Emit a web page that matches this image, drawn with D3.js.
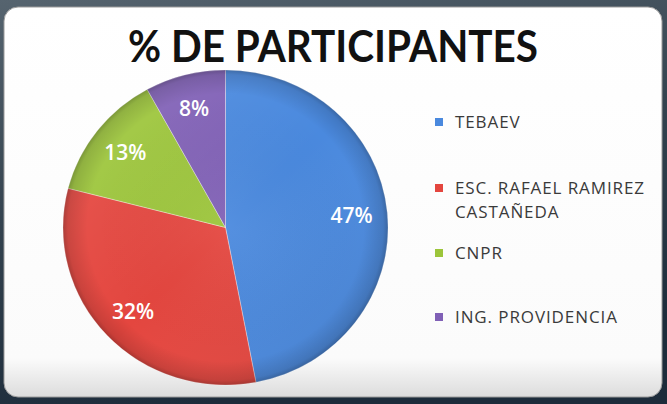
<!DOCTYPE html>
<html>
<head>
<meta charset="utf-8">
<script src="https://cdn.jsdelivr.net/npm/d3@7"></script>
<style>
  html, body { margin: 0; padding: 0; background: #2a3948; }
  svg { display: block; }
</style>
</head>
<body>
<svg id="chart" width="667" height="404"></svg>
<script>
var labels = ["TEBAEV", "ESC. RAFAEL RAMIREZ CASTAÑEDA", "CNPR", "ING. PROVIDENCIA"];
var legendLines = [["TEBAEV"], ["ESC. RAFAEL RAMIREZ", "CASTAÑEDA"], ["CNPR"], ["ING. PROVIDENCIA"]];
var values = [47, 32, 13, 8];
var colors = ["#4a89de", "#e4463f", "#9cc53a", "#8060b6"];
var legendY = [122, 188, 253, 317];

var svg = d3.select("#chart");
var W = 667, H = 404;
var defs = svg.append("defs");

// outer dark frame
var bg = defs.append("linearGradient").attr("id", "bg")
    .attr("x1", "0").attr("y1", "0").attr("x2", "0.3").attr("y2", "1");
bg.append("stop").attr("offset", "0").attr("stop-color", "#56646f");
bg.append("stop").attr("offset", "0.5").attr("stop-color", "#34434f");
bg.append("stop").attr("offset", "1").attr("stop-color", "#1d2c3b");
svg.append("rect").attr("width", W).attr("height", H).attr("fill", "url(#bg)");

// white panel
var panelGrad = defs.append("linearGradient").attr("id", "panel")
    .attr("x1", "0").attr("y1", "0").attr("x2", "0").attr("y2", "1");
panelGrad.append("stop").attr("offset", "0").attr("stop-color", "#ffffff");
panelGrad.append("stop").attr("offset", "0.9").attr("stop-color", "#fbfbfb");
panelGrad.append("stop").attr("offset", "1").attr("stop-color", "#dcdcdc");
svg.append("rect")
    .attr("x", 4).attr("y", 7).attr("width", 658).attr("height", 390)
    .attr("rx", 14).attr("fill", "url(#panel)")
    .attr("stroke", "#9a9a9a").attr("stroke-width", 1);

// title
svg.append("text")
    .attr("x", 333).attr("y", 62)
    .attr("text-anchor", "middle")
    .attr("font-family", "Lato, 'Open Sans', sans-serif")
    .attr("font-weight", "bold")
    .attr("font-size", 44)
    .attr("fill", "#111")
    .attr("textLength", 410)
    .attr("lengthAdjust", "spacingAndGlyphs")
    .text("% DE PARTICIPANTES");

// pie
var cx = 225.5, cy = 227.5, rx = 162.5, ry = 157.5;
var pie = d3.pie().sort(null).value(function(d) { return d; });
var arcs = pie(values);
var arc = d3.arc().innerRadius(0).outerRadius(rx);
var labelArc = d3.arc().innerRadius(rx * 0.78).outerRadius(rx * 0.78);

var shade = defs.append("radialGradient").attr("id", "shade")
    .attr("cx", "0.5").attr("cy", "0.5").attr("r", "0.5");
shade.append("stop").attr("offset", "0").attr("stop-color", "#fff").attr("stop-opacity", 0.06);
shade.append("stop").attr("offset", "0.85").attr("stop-color", "#000").attr("stop-opacity", 0.0);
shade.append("stop").attr("offset", "0.97").attr("stop-color", "#000").attr("stop-opacity", 0.12);
shade.append("stop").attr("offset", "1").attr("stop-color", "#000").attr("stop-opacity", 0.25);

var light = defs.append("linearGradient").attr("id", "light")
    .attr("x1", "0").attr("y1", "0").attr("x2", "1").attr("y2", "1");
light.append("stop").attr("offset", "0").attr("stop-color", "#fff").attr("stop-opacity", 0.12);
light.append("stop").attr("offset", "0.5").attr("stop-color", "#fff").attr("stop-opacity", 0);
light.append("stop").attr("offset", "1").attr("stop-color", "#000").attr("stop-opacity", 0.12);

var g = svg.append("g")
    .attr("transform", "translate(" + cx + "," + cy + ") scale(1," + (ry / rx) + ")");

g.selectAll("path.slice")
    .data(arcs)
    .enter()
    .append("path")
    .attr("class", "slice")
    .attr("d", arc)
    .attr("fill", function(d, i) { return colors[i]; })
    .attr("stroke", "rgba(255,255,255,0.35)")
    .attr("stroke-width", 1);

g.append("circle").attr("r", rx).attr("fill", "url(#light)");
g.append("circle").attr("r", rx).attr("fill", "url(#shade)");

svg.selectAll("text.pct")
    .data(arcs)
    .enter()
    .append("text")
    .attr("class", "pct")
    .attr("x", function(d) { return cx + labelArc.centroid(d)[0]; })
    .attr("y", function(d) { return cy + labelArc.centroid(d)[1] * ry / rx; })
    .attr("dy", "0.35em")
    .attr("text-anchor", "middle")
    .attr("font-family", "'Open Sans', sans-serif")
    .attr("font-weight", 600)
    .attr("font-size", 21)
    .attr("fill", "#fff")
    .text(function(d) { return d.data + "%"; });

// legend
var leg = svg.selectAll("g.legend")
    .data(legendLines)
    .enter()
    .append("g")
    .attr("class", "legend")
    .attr("transform", function(d, i) { return "translate(435," + legendY[i] + ")"; });

leg.append("rect")
    .attr("x", 0).attr("y", -4).attr("width", 8).attr("height", 8)
    .attr("fill", function(d, i) { return colors[i]; });

leg.append("text")
    .attr("x", 20)
    .attr("y", 0)
    .attr("font-family", "'Open Sans', sans-serif")
    .attr("font-size", 17)
    .attr("letter-spacing", 0.9)
    .attr("fill", "#3a3a3a")
    .selectAll("tspan")
    .data(function(d) { return d; })
    .enter()
    .append("tspan")
    .attr("x", 20)
    .attr("dy", function(d, i) { return i === 0 ? "0.35em" : "1.4em"; })
    .text(function(d) { return d; });
</script>
</body>
</html>
